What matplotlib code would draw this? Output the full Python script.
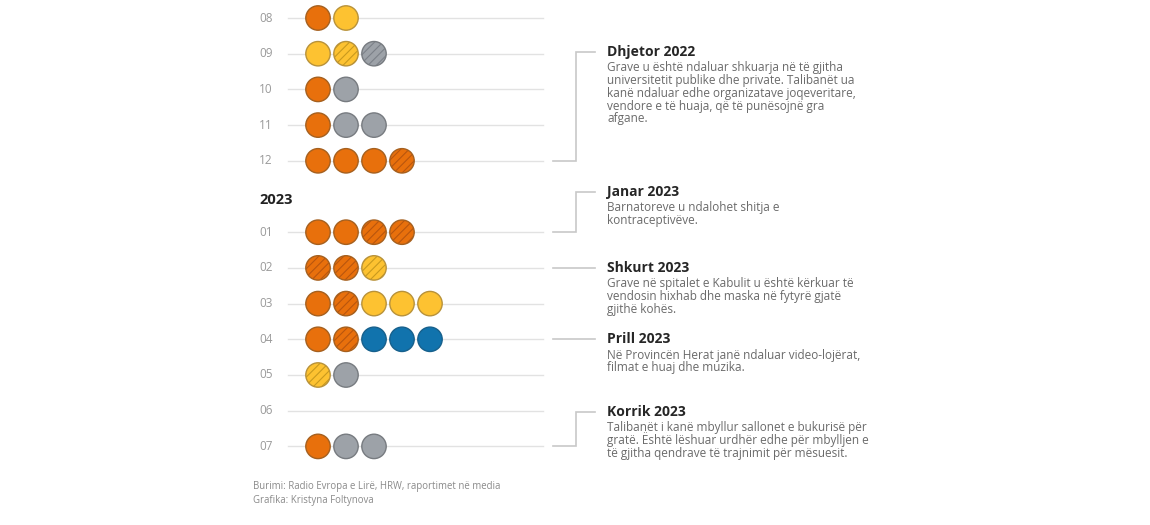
import matplotlib
matplotlib.use("Agg")
import matplotlib.pyplot as plt
from matplotlib.patches import Circle

# --- data ---------------------------------------------------------------
# month labels and dot codes per row; None marks the year header
months = ["08", "09", "10", "11", "12", None, "01", "02", "03", "04", "05", "06", "07"]
dots = [
    ["o", "y"],
    ["y", "yh", "gh"],
    ["o", "g"],
    ["o", "g", "g"],
    ["o", "o", "o", "oh"],
    [],
    ["o", "o", "oh", "oh"],
    ["oh", "oh", "yh"],
    ["o", "oh", "y", "y", "y"],
    ["o", "oh", "b", "b", "b"],
    ["yh", "g"],
    [],
    ["o", "g", "g"],
]
year_header = "2023"

note_months = ["12", "01", "02", "04", "07"]
note_titles = ["Dhjetor 2022", "Janar 2023", "Shkurt 2023", "Prill 2023", "Korrik 2023"]
note_texts = [
    ["Grave u është ndaluar shkuarja në të gjitha",
     "universitetit publike dhe private. Talibanët ua",
     "kanë ndaluar edhe organizatave joqeveritare,",
     "vendore e të huaja, që të punësojnë gra",
     "afgane."],
    ["Barnatoreve u ndalohet shitja e",
     "kontraceptivëve."],
    ["Grave në spitalet e Kabulit u është kërkuar të",
     "vendosin hixhab dhe maska në fytyrë gjatë",
     "gjithë kohës."],
    ["Në Provincën Herat janë ndaluar video-lojërat,",
     "filmat e huaj dhe muzika."],
    ["Talibanët i kanë mbyllur sallonet e bukurisë për",
     "gratë. Është lëshuar urdhër edhe për mbylljen e",
     "të gjitha qendrave të trajnimit për mësuesit."],
]
source = "Burimi: Radio Evropa e Lirë, HRW, raportimet në media"
credit = "Grafika: Kristyna Foltynova"

# --- style --------------------------------------------------------------
fills = {"o": "#E8700C", "y": "#FDC231", "g": "#9DA2A8", "b": "#1173AD"}
stripes = {"o": "#B8560E", "y": "#C99A1E", "g": "#7C8188", "b": "#0D5C8A"}
edges = {"o": "#A5601F", "y": "#B8923A", "g": "#777B80", "b": "#17608C"}

row_y0, row_step = 18, 35.7
dot_x0, dot_step, dot_r = 318, 28, 12.2
grid_x = (288, 543)
label_x = 259
note_x = 607
note_title_y = [52, 192, None, None, 412]   # None: title level with its row
body_offset, body_step = 19.5, 12.7
conn_x0, conn_xm, conn_x1 = 553, 576, 595

plt.rcParams["font.family"] = ["Open Sans", "DejaVu Sans"]
plt.rcParams["hatch.linewidth"] = 0.8

fig = plt.figure(figsize=(11.5, 5.25), dpi=100)
ax = fig.add_axes([0, 0, 1, 1])
ax.set_xlim(0, 1150)
ax.set_ylim(525, 0)
ax.axis("off")

row_pos = {}
for i, (m, row) in enumerate(zip(months, dots)):
    y = row_y0 + i * row_step
    if m is None:
        ax.text(label_x, y + 4, year_header, fontsize=10.5, fontweight="bold",
                color="#222222", va="center", ha="left")
        continue
    row_pos[m] = y
    ax.text(label_x, y, m, fontsize=8.5, color="#9a9a9a", va="center", ha="left")
    ax.plot(grid_x, [y, y], color="#e2e2e2", lw=1, zorder=1)
    for j, code in enumerate(row):
        c = code[0]
        x = dot_x0 + j * dot_step
        ax.add_patch(Circle((x, y), dot_r, facecolor=fills[c], edgecolor="none", zorder=2))
        if code.endswith("h"):
            ax.add_patch(Circle((x, y), dot_r, facecolor="none", edgecolor=stripes[c],
                                hatch="////", lw=0, zorder=3))
        ax.add_patch(Circle((x, y), dot_r, facecolor="none", edgecolor=edges[c],
                            lw=1.0, zorder=4))

# notes and connectors
for m, title, body, ty in zip(note_months, note_titles, note_texts, note_title_y):
    ry = row_pos[m]
    if ty is None:
        ty = ry
        ax.plot([conn_x0, conn_x1], [ry, ry], color="#c8c8c8", lw=1.2)
    else:
        ax.plot([conn_x0, conn_xm, conn_xm, conn_x1], [ry, ry, ty, ty],
                color="#c8c8c8", lw=1.2, solid_joinstyle="miter")
    ax.text(note_x, ty, title, fontsize=10, fontweight="bold", color="#262626",
            va="center", ha="left")
    for k, line in enumerate(body):
        ax.text(note_x, ty + body_offset + k * body_step, line, fontsize=8.5,
                color="#6a6a6a", va="baseline", ha="left")

ax.text(253, 486, source, fontsize=6.9, color="#8a8a8a", va="center", ha="left")
ax.text(253, 501, credit, fontsize=6.9, color="#8a8a8a", va="center", ha="left")

fig.savefig("out.png", dpi=100, facecolor="white")
